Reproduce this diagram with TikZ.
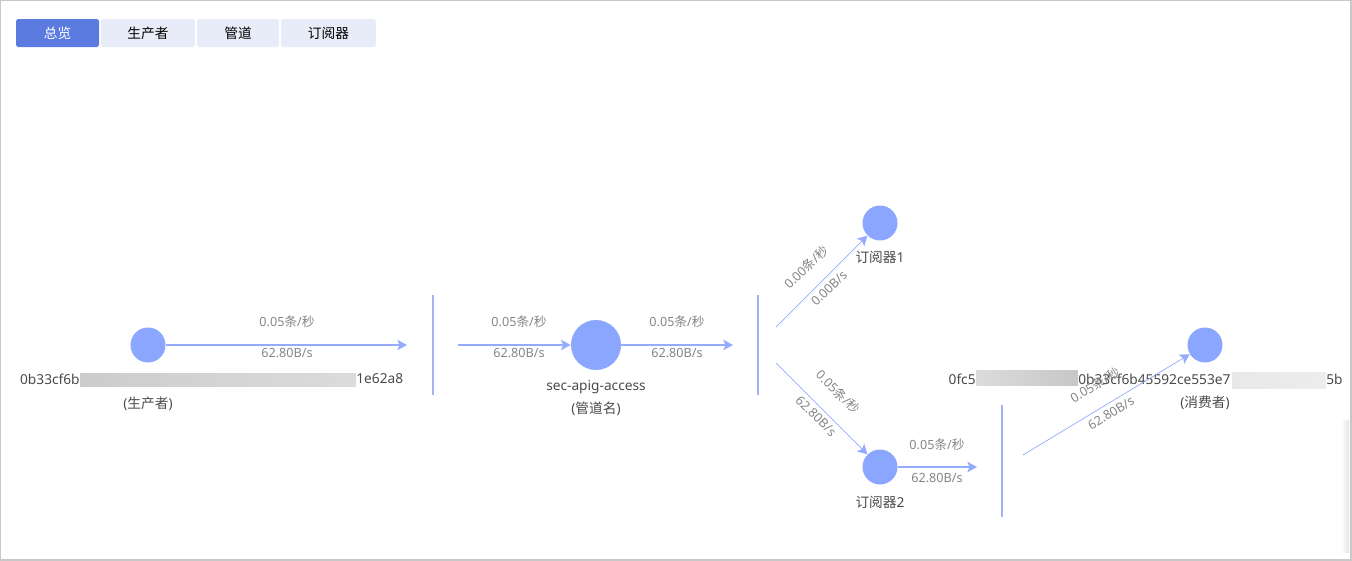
\documentclass[tikz,border=0pt]{standalone}
\usepackage{fontspec}
\setmainfont{Noto Sans}
\newfontfamily\cjk{Noto Sans CJK SC}
\newcommand\zh[1]{{\cjk #1}}
\usetikzlibrary{arrows.meta}
\definecolor{tabblue}{HTML}{5B7BE0}
\definecolor{tabpale}{HTML}{E8ECF8}
\definecolor{dotblue}{HTML}{8AA6FF}
\definecolor{flowblue}{HTML}{94ABFF}
\definecolor{barblue}{HTML}{9EB2F4}
\definecolor{ratetext}{HTML}{858585}
\definecolor{nametext}{HTML}{4A4A4A}
\definecolor{framegray}{HTML}{C8C8C8}
\tikzset{
  tabbox/.style={fill=tabpale,draw=none,rounded corners=1pt},
  flowdot/.style={circle,fill=dotblue,inner sep=0pt,minimum size=0.70cm},
  flow/.style={flowblue,line width=0.7pt,-{Stealth[length=5.5pt,width=6pt,inset=1.2pt]}},
  thinflow/.style={flow,line width=0.4pt},
  barline/.style={barblue,line width=0.7pt},
  ratelabel/.style={text=ratetext,font=\fontsize{7.2}{8}\selectfont,inner sep=0pt},
  namelabel/.style={text=nametext,font=\fontsize{7.8}{9}\selectfont,inner sep=0pt}
}
\begin{document}
\begin{tikzpicture}[x=0.02cm,y=-0.02cm]
 \useasboundingbox (0,0) rectangle (1352,561);
 \draw[framegray,line width=0.6pt] (0.6,0.6) rectangle (1351,560);
 % tabs
 \begin{scope}
  \fill[tabblue,rounded corners=1pt] (16,19) rectangle (99,47);
  \fill[tabbox] (101,19) rectangle (195,47);
  \fill[tabbox] (197,19) rectangle (279,47);
  \fill[tabbox] (281,19) rectangle (376,47);
  \node[namelabel,text=white] (tabAll) at (57.5,33) {\zh{总览}};
  \node[namelabel,text=black] (tabProd) at (148,33) {\zh{生产者}};
  \node[namelabel,text=black] (tabPipe) at (238,33) {\zh{管道}};
  \node[namelabel,text=black] (tabSub) at (328.5,33) {\zh{订阅器}};
 \end{scope}
 % producer
 \node[flowdot] (prod) at (148,345) {};
 \node[namelabel,anchor=east] (prodA) at (80,379) {0b33cf6b};
 \node[namelabel,anchor=west] (prodB) at (356,379) {1e62a8};
 \shade[left color=black!20,right color=black!14] (80,373) rectangle (356,386);
 \node[namelabel] (prodRole) at (148,404) {(\zh{生产者})};
 \coordinate (barAin) at (407,345);
 \draw[flow] (prod) -- (barAin);
 \node[ratelabel] at (287,322) {0.05\zh{条}/\zh{秒}};
 \node[ratelabel] at (287,353) {62.80B/s};
 \draw[barline] (433,295) -- (433,395);
 % pipe
 \node[flowdot,minimum size=1.0cm] (pipe) at (596,345) {};
 \node[namelabel] (pipeName) at (596,387) {sec-apig-access};
 \node[namelabel] (pipeRole) at (596,409) {(\zh{管道名})};
 \coordinate (barAout) at (458,345);
 \draw[flow] (barAout) -- (pipe);
 \node[ratelabel] at (519,322) {0.05\zh{条}/\zh{秒}};
 \node[ratelabel] at (519,353) {62.80B/s};
 \coordinate (barBin) at (733,345);
 \draw[flow] (pipe) -- (barBin);
 \node[ratelabel] at (677,322) {0.05\zh{条}/\zh{秒}};
 \node[ratelabel] at (677,353) {62.80B/s};
 \draw[barline] (758,295) -- (758,395);
 % subscribers
 \node[flowdot] (subA) at (880,223) {};
 \node[namelabel] (subAName) at (880,257) {\zh{订阅器}1};
 \coordinate (barBoutA) at (776,327);
 \draw[thinflow] (barBoutA) -- (subA);
 \node[ratelabel,rotate=44] at (806,267) {0.00\zh{条}/\zh{秒}};
 \node[ratelabel,rotate=44] at (829,288) {0.00B/s};
 \node[flowdot] (subB) at (880,467) {};
 \node[namelabel] (subBName) at (880,502) {\zh{订阅器}2};
 \coordinate (barBoutB) at (776,363);
 \draw[thinflow] (barBoutB) -- (subB);
 \node[ratelabel,rotate=-45] at (838,392) {0.05\zh{条}/\zh{秒}};
 \node[ratelabel,rotate=-45] at (816,416) {62.80B/s};
 \coordinate (barCin) at (977,467);
 \draw[flow] (subB) -- (barCin);
 \node[ratelabel] at (937,445) {0.05\zh{条}/\zh{秒}};
 \node[ratelabel] at (937,478) {62.80B/s};
 \draw[barline] (1002,405) -- (1002,517);
 % consumer
 \node[flowdot] (cons) at (1205,345) {};
 \node[namelabel,anchor=east] (consA) at (976,379) {0fc5};
 \node[namelabel,anchor=west] (consB) at (1078,379) {0b33cf6b45592ce553e7};
 \node[namelabel,anchor=west] (consC) at (1326,379) {5b};
 \shade[left color=black!14,right color=black!22] (976,370) rectangle (1078,385);
 \shade[left color=black!9,right color=black!7] (1232,372) rectangle (1326,388);
 \node[namelabel] (consRole) at (1205,403) {(\zh{消费者})};
 \coordinate (barCout) at (1023,455);
 \draw[thinflow] (barCout) -- (cons);
 \node[ratelabel,rotate=31] at (1095,385) {0.05\zh{条}/\zh{秒}};
 \node[ratelabel,rotate=31] at (1111,413) {62.80B/s};
 \shade[left color=white,right color=black!10] (1341,420) rectangle (1349,552);
\end{tikzpicture}
\end{document}
